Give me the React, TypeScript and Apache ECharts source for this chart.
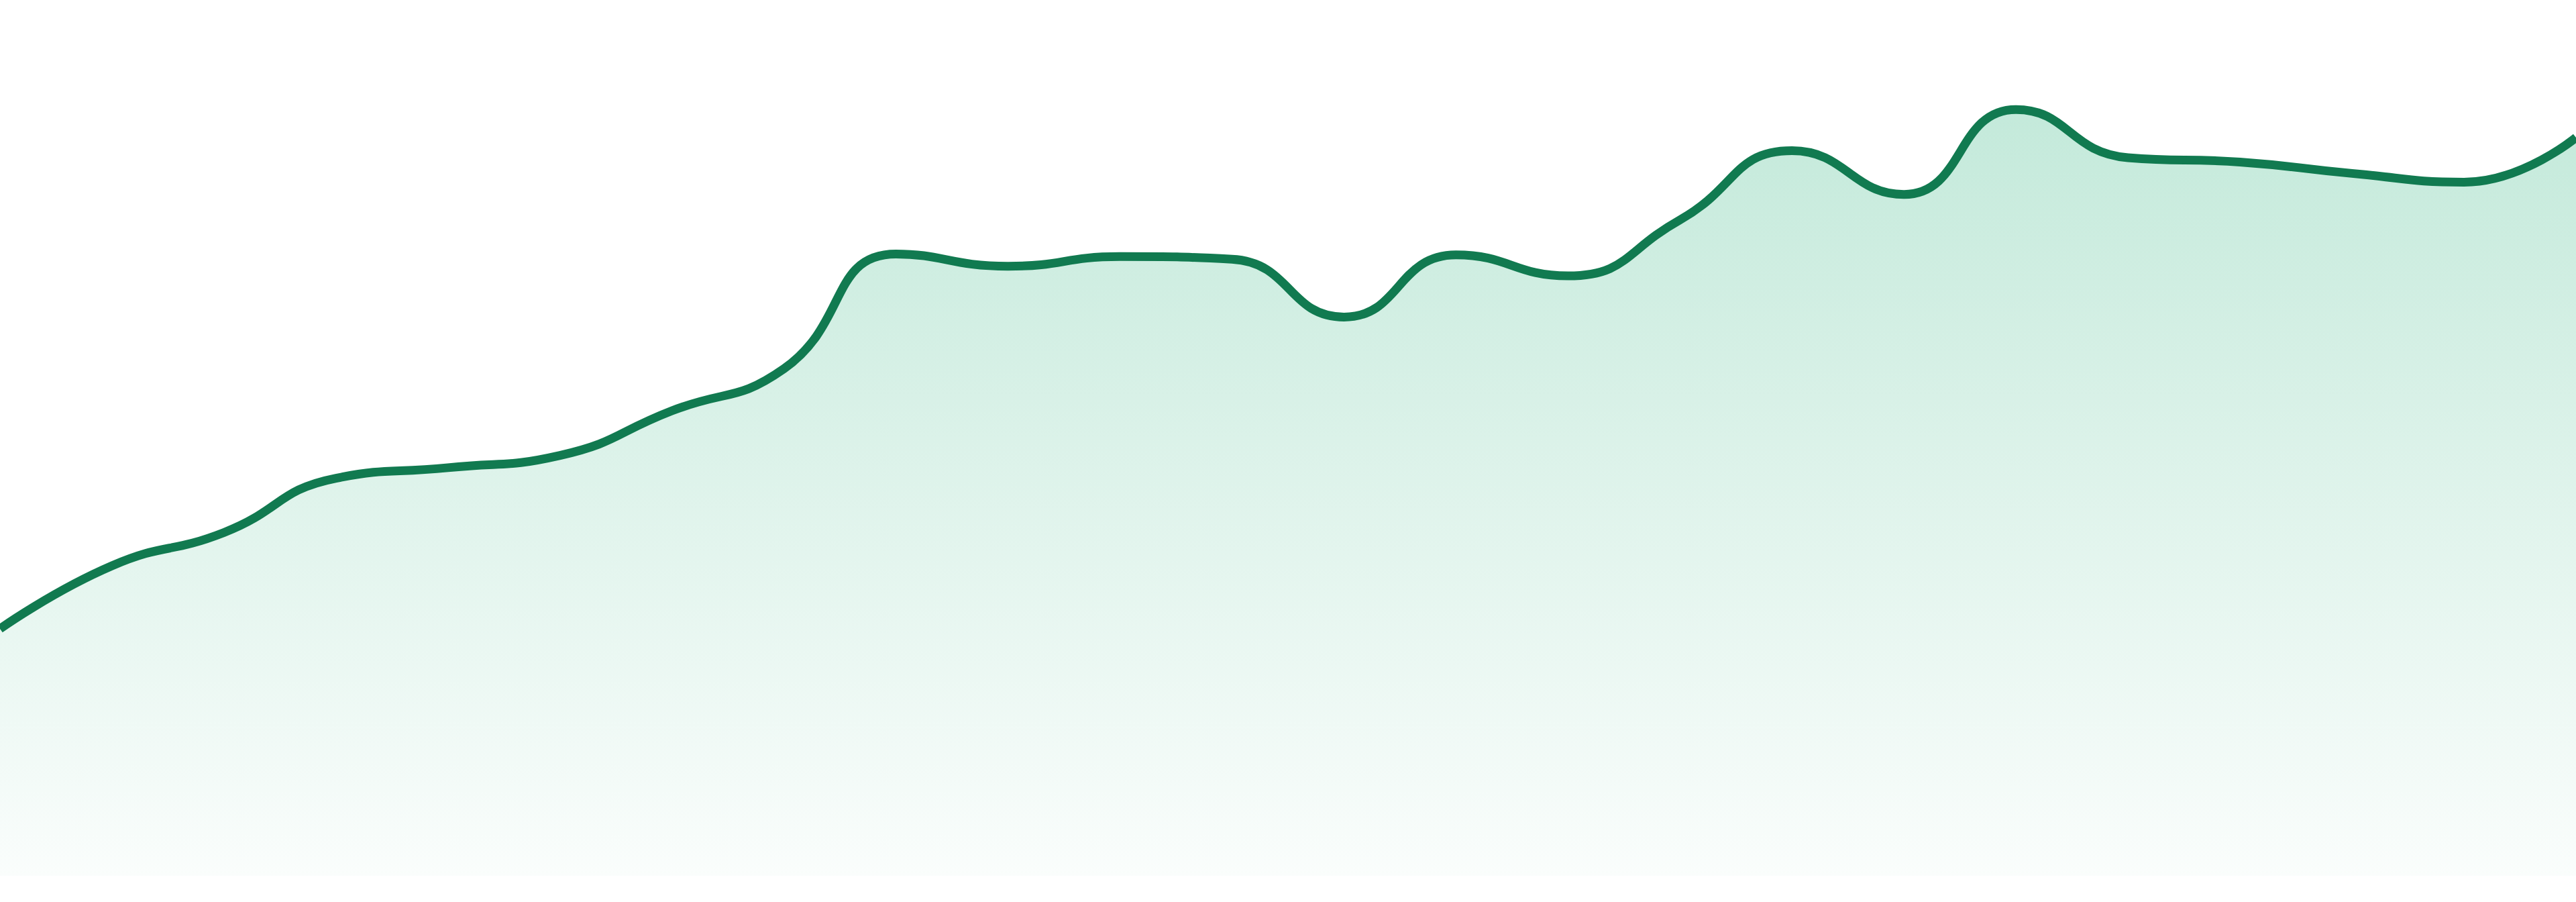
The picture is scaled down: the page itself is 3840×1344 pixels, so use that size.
import React, { useEffect, useRef } from "react";
import * as echarts from "echarts";

const categories: string[] = [
  "00:00", "01:00", "02:00", "03:00", "04:00", "05:00", "06:00", "07:00",
  "08:00", "09:00", "10:00", "11:00", "12:00", "13:00", "14:00", "15:00",
  "16:00", "17:00", "18:00", "19:00", "20:00", "21:00", "22:00", "23:00",
];

const values: number[] = [
  28.2, 35.4, 39.2, 45.4, 46.6, 48.0, 53.1, 57.9,
  71.0, 69.6, 70.7, 70.4, 63.8, 70.9, 68.5, 74.9,
  82.8, 77.8, 87.5, 82.0, 81.5, 80.2, 79.2, 84.3,
];

const yMin = 0;
const yMax = 100;

export default function App() {
  const ref = useRef<HTMLDivElement | null>(null);

  useEffect(() => {
    document.body.style.margin = "0";
    if (!ref.current) return;
    const chart = echarts.init(ref.current, undefined, { renderer: "svg" });
    chart.setOption({
      animation: false,
      backgroundColor: "#ffffff",
      grid: { left: 0, right: 0, top: 0, bottom: 39, containLabel: false },
      xAxis: {
        type: "category",
        data: categories,
        boundaryGap: false,
        show: false,
      },
      yAxis: {
        type: "value",
        min: yMin,
        max: yMax,
        show: false,
        splitLine: { show: false },
      },
      series: [
        {
          type: "line",
          data: values,
          smooth: 0.5,
          symbol: "none",
          lineStyle: { color: "#117a50", width: 13 },
          itemStyle: { color: "#117a50" },
          areaStyle: {
            color: new echarts.graphic.LinearGradient(0, 0, 0, 1, [
              { offset: 0, color: "rgba(20, 170, 110, 0.36)" },
              { offset: 1, color: "rgba(20, 170, 110, 0.03)" },
            ]),
          },
        },
      ],
    });
    return () => chart.dispose();
  }, []);

  return <div ref={ref} style={{ width: 3840, height: 1344 }} />;
}
